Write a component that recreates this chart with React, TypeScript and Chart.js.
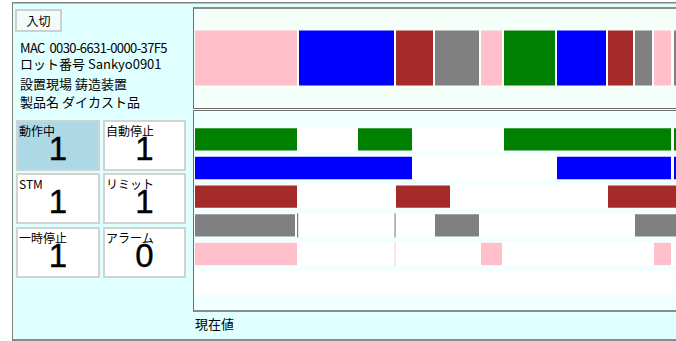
import React, { useEffect, useRef } from 'react';
import { Chart, registerables } from 'chart.js';

Chart.register(...registerables);

// ---- data ----
const stateLabels = ['動作中', '自動停止', 'STM', 'リミット', '一時停止', 'アラーム'];
const stateColors = ['#008000', '#0000FF', '#A52A2A', '#808080', '#FFC0CB', '#FF0000'];
const stateCounts = [1, 1, 1, 1, 1, 0];

const infoLines = ['MAC  0030-6631-0000-37F5', 'ロット番号 Sankyo0901', '設置現場 鋳造装置', '製品名 ダイカスト品'];

const timeMax = 500;

// top timeline: sequence of states (index into stateLabels)
const timelineStart = [0, 104, 201, 240, 286, 309, 362, 413, 440, 459, 479];
const timelineEnd = [104, 201, 240, 286, 309, 362, 413, 440, 459, 478, 500];
const timelineState = [4, 1, 2, 3, 4, 0, 1, 2, 3, 4, 3];

// per-state spans
const runSpans = [[0, 104], [163, 219], [309, 478], [479, 500]];
const autoStopSpans = [[0, 219], [362, 478], [479, 500]];
const stmSpans = [[0, 104], [201, 257], [413, 500]];
const limitSpans = [[0, 102], [103, 104.2], [200.5, 201.6], [240, 286], [440, 500]];
const pauseSpans = [[0, 104], [200.6, 201.5], [286, 309], [459, 478]];
const alarmSpans: number[][] = [];

const stateSpans = [runSpans, autoStopSpans, stmSpans, limitSpans, pauseSpans, alarmSpans];

const edge = 'rgba(255,255,255,0.35)';
const edgeWidth = (ctx: any) => {
  const v = ctx.raw;
  return v && Array.isArray(v) && v[1] - v[0] < 3 ? 0 : 1;
};

function TimelineChart() {
  const ref = useRef<HTMLCanvasElement>(null);
  useEffect(() => {
    const datasets = timelineStart.map((s, i) => ({
      label: stateLabels[timelineState[i]],
      data: [[s, timelineEnd[i]]],
      backgroundColor: stateColors[timelineState[i]],
      borderColor: edge,
      borderWidth: edgeWidth,
      borderSkipped: false,
      grouped: false,
      barPercentage: 0.57,
      categoryPercentage: 1,
    }));
    const chart = new Chart(ref.current!, {
      type: 'bar',
      data: { labels: [''], datasets: datasets as any },
      options: {
        indexAxis: 'y',
        animation: false,
        responsive: false,
        maintainAspectRatio: false,
        layout: { padding: 0 },
        plugins: { legend: { display: false }, tooltip: { enabled: false } },
        scales: {
          x: { type: 'linear', min: 0, max: timeMax, display: false },
          y: { display: false },
        },
      },
    });
    return () => chart.destroy();
  }, []);
  return <canvas ref={ref} width={500} height={100} style={{ position: 'absolute', left: 194, top: 8, display: 'block' }} />;
}

function StateChart() {
  const ref = useRef<HTMLCanvasElement>(null);
  useEffect(() => {
    const maxSpans = Math.max(...stateSpans.map((r) => r.length));
    const common = {
      borderSkipped: false,
      grouped: false,
      barPercentage: 0.85,
      categoryPercentage: 1,
    };
    const datasets: any[] = [];
    for (let k = 0; k < maxSpans; k++) {
      datasets.push({
        label: 'span' + k,
        data: stateSpans.map((r) => (r[k] ? r[k] : null)),
        backgroundColor: stateColors,
        borderColor: edge,
        borderWidth: edgeWidth,
        order: k,
        ...common,
      });
    }
    datasets.push({
      label: 'track',
      data: stateLabels.map(() => [0, timeMax]),
      backgroundColor: '#ffffff',
      borderWidth: 0,
      order: 99,
      ...common,
    });
    const chart = new Chart(ref.current!, {
      type: 'bar',
      data: { labels: stateLabels, datasets },
      options: {
        indexAxis: 'y',
        animation: false,
        responsive: false,
        maintainAspectRatio: false,
        layout: { padding: { top: 14, bottom: 14, left: 0, right: 0 } },
        plugins: { legend: { display: false }, tooltip: { enabled: false } },
        scales: {
          x: { type: 'linear', min: 0, max: timeMax, display: false },
          y: { display: false },
        },
      },
    });
    return () => chart.destroy();
  }, []);
  return <canvas ref={ref} width={500} height={200} style={{ position: 'absolute', left: 194, top: 111, display: 'block' }} />;
}

const tilePos = [
  [16, 120], [103, 120],
  [16, 173], [103, 173],
  [16, 227], [103, 227],
];

export default function App() {
  const abs = (o: any) => ({ position: 'absolute', boxSizing: 'border-box', ...o });
  const infoTops = [40, 56, 76, 94];
  return (
    <div style={abs({ left: 0, top: 0, width: 676, height: 341, overflow: 'hidden', background: '#ffffff', fontFamily: '"Noto Sans CJK JP", "Noto Sans", sans-serif', color: '#000' })}>
      <div style={abs({ left: 12, top: 2, width: 700, height: 339, background: '#E0FFFF', borderLeft: '1px solid #808080', borderTop: '1px solid #808080', borderBottom: '2px solid #8a8a8a', boxShadow: 'inset 0 1px 0 #a8c8cc' })} />
      <div style={abs({ left: 15, top: 9, width: 47, height: 23, background: '#f2fafa', border: '2px solid #cfcfcf', fontSize: 12, lineHeight: '19px', textAlign: 'center' })}>入切</div>
      {infoLines.map((t, i) => (
        <div key={i} style={abs({ left: 20, top: infoTops[i], fontSize: 13, lineHeight: '16px', whiteSpace: 'pre', letterSpacing: i === 0 ? -0.6 : 0 })}>{t}</div>
      ))}
      {stateLabels.map((lab, i) => (
        <div key={lab} style={abs({ left: tilePos[i][0], top: tilePos[i][1], width: i % 2 === 0 ? 84 : 83, height: 51, background: i === 0 ? '#ADD8E6' : '#ffffff', border: '2px solid #d2d2d2' })}>
          <div style={abs({ left: 1, top: 2, fontSize: 12, lineHeight: '14px', whiteSpace: 'nowrap' })}>{lab}</div>
          <div style={abs({ left: 0, top: 9, width: '100%', textAlign: 'center', fontFamily: '"Liberation Sans", Arial, sans-serif', fontSize: 33, lineHeight: '36px', WebkitTextStroke: '0.4px #000' })}>{stateCounts[i]}</div>
        </div>
      ))}
      <div style={abs({ left: 193, top: 7, width: 500, height: 102, background: '#F5FFFA', borderLeft: '1px solid #6e6e6e', borderTop: '2px solid #8c8c8c', borderBottom: '1px solid #6e6e6e' })} />
      <TimelineChart />
      <div style={abs({ left: 193, top: 110, width: 500, height: 202, background: '#F0FFFF', borderLeft: '1px solid #6e6e6e', borderTop: '1px solid #6e6e6e', borderBottom: '2px solid #8c8c8c' })} />
      <StateChart />
      <div style={abs({ left: 195, top: 316, fontSize: 13, lineHeight: '16px' })}>現在値</div>
    </div>
  );
}
